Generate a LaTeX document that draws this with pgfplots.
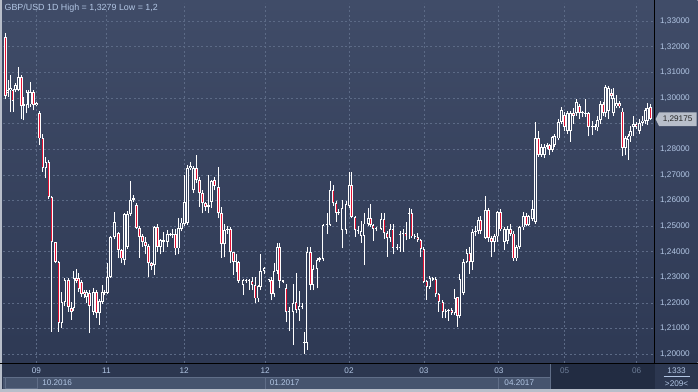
\documentclass[border=0pt]{standalone}
\usepackage{pgfplots}
\pgfplotsset{compat=1.18}
\usepackage{pgfplotstable}
\usepackage{fontspec}
\setmainfont{Liberation Sans}
\definecolor{bgtop}{RGB}{64,76,104}
\definecolor{bgbot}{RGB}{46,57,84}
\definecolor{gridc}{RGB}{92,106,134}
\definecolor{lbl}{RGB}{178,198,228}
\definecolor{dim}{RGB}{110,126,152}
\definecolor{candred}{RGB}{228,18,52}
\definecolor{hollow}{RGB}{54,66,94}
\definecolor{frame}{RGB}{184,190,202}
\definecolor{lowbg}{RGB}{44,55,80}
\definecolor{strip}{RGB}{70,84,110}
\definecolor{stripln}{RGB}{96,110,136}
\definecolor{scroll}{RGB}{34,44,66}

% up (hollow) candles: x open high low close
\pgfplotstableread{
x o h l c
7.5 1.3018 1.3069 1.3004 1.3030
10 1.3030 1.3088 1.2944 1.3038
15 1.3030 1.3057 1.3022 1.3050
18 1.3030 1.3121 1.3026 1.3082
23.5 1.2968 1.3004 1.2913 1.2975
26.5 1.2972 1.3030 1.2940 1.3024
30.5 1.2975 1.3063 1.2965 1.3024
36 1.2972 1.2985 1.2968 1.2981
45.5 1.2727 1.2770 1.2686 1.2751
61.5 1.2123 1.2244 1.2101 1.2205
64.5 1.2205 1.2296 1.2190 1.2290
73.5 1.2180 1.2325 1.2170 1.2296
86.5 1.2223 1.2252 1.2200 1.2244
93 1.2166 1.2258 1.2153 1.2244
99 1.2160 1.2215 1.2114 1.2208
102 1.2205 1.2270 1.2196 1.2244
107.5 1.2240 1.2355 1.2236 1.2302
110.5 1.2302 1.2463 1.2298 1.2458
114 1.2458 1.2556 1.2448 1.2517
124.5 1.2367 1.2550 1.2348 1.2546
127.5 1.2420 1.2560 1.2410 1.2546
130.5 1.2548 1.2675 1.2540 1.2601
133 1.2601 1.2620 1.2596 1.2608
154 1.2350 1.2500 1.2310 1.2497
160 1.2420 1.2450 1.2390 1.2445
167 1.2440 1.2485 1.2420 1.2468
172.5 1.2466 1.2490 1.2455 1.2470
178 1.2413 1.2530 1.2390 1.2494
181 1.2490 1.2530 1.2480 1.2514
184 1.2507 1.2699 1.2500 1.2595
187 1.2512 1.2740 1.2505 1.2726
190 1.2726 1.2750 1.2720 1.2735
193 1.2640 1.2735 1.2630 1.2727
208 1.2576 1.2700 1.2550 1.2583
211 1.2595 1.2680 1.2570 1.2675
224 1.2429 1.2510 1.2378 1.2484
227 1.2484 1.2500 1.2470 1.2490
243 1.2272 1.2295 1.2231 1.2290
249 1.2285 1.2295 1.2250 1.2290
258 1.2218 1.2270 1.2205 1.2267
260.5 1.2264 1.2390 1.2250 1.2325
264 1.2325 1.2340 1.2315 1.2335
274 1.2234 1.2355 1.2225 1.2325
277 1.2325 1.2433 1.2315 1.2418
289 1.2164 1.2185 1.2090 1.2170
293 1.2166 1.2273 1.2036 1.2199
299 1.2173 1.2245 1.2130 1.2187
307 1.2045 1.2420 1.2017 1.2400
313 1.2270 1.2350 1.2250 1.2333
317 1.2333 1.2375 1.2257 1.2368
319.5 1.2368 1.2380 1.2360 1.2375
323 1.2373 1.2510 1.2365 1.2505
327 1.2505 1.2550 1.2470 1.2507
330 1.2505 1.2675 1.2500 1.2640
338.5 1.2553 1.2565 1.2545 1.2556
342 1.2485 1.2602 1.2413 1.2569
346 1.2485 1.2600 1.2470 1.2585
349 1.2579 1.2710 1.2570 1.2660
361 1.2462 1.2520 1.2435 1.2480
364 1.2462 1.2550 1.2348 1.2510
368 1.2510 1.2570 1.2500 1.2530
381 1.2490 1.2550 1.2485 1.2527
390 1.2455 1.2510 1.2440 1.2490
397 1.2415 1.2430 1.2405 1.2418
400 1.2415 1.2480 1.2400 1.2468
403 1.2468 1.2490 1.2400 1.2475
409 1.2460 1.2570 1.2450 1.2550
430 1.2263 1.2305 1.2255 1.2298
446 1.2166 1.2175 1.2140 1.2170
448.5 1.2168 1.2175 1.2130 1.2172
455 1.2162 1.2253 1.2155 1.2218
460 1.2149 1.2313 1.2140 1.2292
463.5 1.2240 1.2370 1.2230 1.2361
467 1.2361 1.2410 1.2355 1.2396
473 1.2360 1.2490 1.2330 1.2478
476 1.2478 1.2500 1.2460 1.2483
478.5 1.2483 1.2535 1.2470 1.2523
486 1.2455 1.2617 1.2450 1.2562
495 1.2439 1.2470 1.2400 1.2460
498 1.2460 1.2560 1.2440 1.2556
505 1.2439 1.2495 1.2407 1.2487
508 1.2442 1.2500 1.2430 1.2490
517 1.2374 1.2425 1.2365 1.2419
520 1.2419 1.2500 1.2410 1.2495
524 1.2495 1.2556 1.2485 1.2539
529 1.2504 1.2545 1.2500 1.2539
532.5 1.2527 1.2602 1.2520 1.2566
535.5 1.2517 1.2907 1.2510 1.2842
541.5 1.2777 1.2820 1.2770 1.2810
545 1.2777 1.2820 1.2765 1.2810
547.5 1.2810 1.2825 1.2800 1.2817
552.5 1.2797 1.2850 1.2790 1.2846
555 1.2817 1.2860 1.2810 1.2850
558.5 1.2842 1.2920 1.2835 1.2907
561.5 1.2907 1.2965 1.2900 1.2952
568 1.2870 1.2950 1.2860 1.2940
571 1.2870 1.2950 1.2830 1.2940
577 1.2940 1.2995 1.2930 1.2985
585.5 1.2938 1.2995 1.2925 1.2942
593 1.2885 1.2910 1.2855 1.2890
598 1.2885 1.2930 1.2870 1.2915
601 1.2916 1.2990 1.2900 1.2976
606 1.2940 1.3050 1.2925 1.3043
609 1.2950 1.3045 1.2920 1.3040
614 1.2940 1.3040 1.2930 1.3000
617 1.2967 1.3010 1.2960 1.2982
626 1.2804 1.2850 1.2776 1.2843
628.5 1.2836 1.2860 1.2758 1.2850
631 1.2850 1.2890 1.2830 1.2870
634 1.2888 1.2930 1.2850 1.2900
640 1.2870 1.2920 1.2860 1.2903
643 1.2903 1.2930 1.2890 1.2912
645.5 1.2910 1.2960 1.2900 1.2952
648 1.2910 1.2980 1.2895 1.2960
}\up

% down (red) candles: x open high low close
\pgfplotstableread{
x o h l c
5 1.3238 1.3253 1.2998 1.3007
12.5 1.3030 1.3036 1.2946 1.2988
21 1.3082 1.3088 1.2917 1.2968
28.5 1.3024 1.3030 1.2960 1.3018
33 1.3024 1.3030 1.2952 1.2972
39 1.2940 1.2949 1.2816 1.2842
42.5 1.2842 1.2861 1.2712 1.2727
48.5 1.2751 1.2758 1.2605 1.2615
51.5 1.2615 1.2619 1.2088 1.2437
55 1.2437 1.2440 1.2355 1.2361
58.5 1.2361 1.2365 1.2088 1.2123
68 1.2290 1.2296 1.2166 1.2186
71 1.2180 1.2205 1.2134 1.2164
76 1.2296 1.2331 1.2278 1.2286
78.5 1.2296 1.2316 1.2243 1.2255
81 1.2283 1.2290 1.2225 1.2234
84 1.2244 1.2250 1.2221 1.2234
89.5 1.2240 1.2250 1.2082 1.2188
96 1.2244 1.2250 1.2140 1.2160
104.5 1.2244 1.2250 1.2230 1.2238
118 1.2472 1.2476 1.2374 1.2406
121 1.2406 1.2410 1.2355 1.2374
136 1.2582 1.2590 1.2490 1.2494
139 1.2494 1.2500 1.2376 1.2458
142 1.2462 1.2470 1.2420 1.2439
145 1.2439 1.2458 1.2390 1.2424
148 1.2424 1.2430 1.2300 1.2355
151 1.2355 1.2360 1.2330 1.2346
157 1.2497 1.2510 1.2400 1.2420
163 1.2445 1.2478 1.2400 1.2440
170 1.2468 1.2475 1.2460 1.2466
175 1.2470 1.2490 1.2387 1.2413
196 1.2727 1.2777 1.2670 1.2679
199 1.2679 1.2690 1.2576 1.2628
202 1.2628 1.2640 1.2550 1.2589
205 1.2589 1.2596 1.2560 1.2576
214 1.2679 1.2690 1.2640 1.2657
218.5 1.2653 1.2731 1.2530 1.2550
221 1.2550 1.2575 1.2376 1.2429
230 1.2488 1.2495 1.2355 1.2398
233 1.2398 1.2400 1.2310 1.2361
236 1.2365 1.2390 1.2320 1.2360
238.5 1.2359 1.2365 1.2280 1.2286
246 1.2290 1.2294 1.2280 1.2287
252 1.2286 1.2300 1.2250 1.2270
255 1.2270 1.2300 1.2199 1.2218
269 1.2290 1.2293 1.2283 1.2288
271.5 1.2290 1.2303 1.2210 1.2234
279.5 1.2418 1.2433 1.2260 1.2286
283 1.2286 1.2290 1.2280 1.2284
286 1.2257 1.2273 1.2125 1.2164
296 1.2205 1.2316 1.2160 1.2173
302 1.2187 1.2200 1.2175 1.2184
304.5 1.2049 1.2088 1.2000 1.2043
310.5 1.2400 1.2420 1.2250 1.2270
333 1.2640 1.2660 1.2580 1.2589
336 1.2589 1.2600 1.2517 1.2553
351.5 1.2660 1.2710 1.2530 1.2537
355 1.2537 1.2540 1.2459 1.2485
358 1.2485 1.2500 1.2470 1.2480
370.5 1.2530 1.2585 1.2495 1.2505
373 1.2505 1.2510 1.2442 1.2490
376 1.2490 1.2495 1.2480 1.2487
384 1.2527 1.2550 1.2450 1.2472
387 1.2472 1.2480 1.2380 1.2455
393 1.2490 1.2510 1.2390 1.2415
406 1.2472 1.2515 1.2445 1.2460
412 1.2550 1.2565 1.2455 1.2460
415 1.2460 1.2470 1.2450 1.2458
418 1.2458 1.2475 1.2440 1.2445
421 1.2445 1.2450 1.2380 1.2410
424 1.2410 1.2420 1.2280 1.2283
427 1.2286 1.2290 1.2212 1.2263
433 1.2297 1.2302 1.2285 1.2290
436 1.2292 1.2300 1.2225 1.2234
439 1.2234 1.2240 1.2166 1.2205
443 1.2205 1.2210 1.2140 1.2166
452 1.2172 1.2180 1.2155 1.2160
457.5 1.2222 1.2225 1.2108 1.2149
470 1.2396 1.2420 1.2315 1.2360
481 1.2523 1.2540 1.2470 1.2482
489 1.2562 1.2570 1.2440 1.2455
492 1.2455 1.2460 1.2380 1.2439
501 1.2556 1.2565 1.2480 1.2487
511 1.2490 1.2510 1.2460 1.2471
514 1.2471 1.2480 1.2365 1.2374
526.5 1.2539 1.2550 1.2500 1.2504
538.5 1.2842 1.2870 1.2770 1.2777
549.5 1.2817 1.2822 1.2777 1.2797
564.5 1.2933 1.2945 1.2870 1.2888
574 1.2940 1.2960 1.2900 1.2930
580 1.2970 1.2975 1.2920 1.2940
582.5 1.2942 1.2950 1.2925 1.2940
589 1.2940 1.2945 1.2850 1.2888
595.5 1.2890 1.2900 1.2875 1.2885
603.5 1.2976 1.2985 1.2930 1.2942
611.5 1.3021 1.3035 1.2995 1.3007
620 1.2982 1.2990 1.2960 1.2967
623 1.2947 1.2962 1.2773 1.2804
636.5 1.2900 1.2905 1.2880 1.2888
651 1.2965 1.2975 1.2915 1.2918
}\down

\pgfplotsset{candle/.style={draw=none, mark=none, forget plot,
  error bars/.cd, y dir=plus, y explicit, error mark=none}}

\begin{document}
\begin{tikzpicture}[x=1pt,y=1pt]
% backgrounds
\shade[top color=bgtop,bottom color=bgbot] (0,29) rectangle (698,392);
\fill[lowbg] (0,0) rectangle (698,29);
\fill[strip] (3,3) rectangle (551,15);
\draw[stripln,line width=0.8pt] (3,15) -- (551,15);
\draw[stripln,line width=0.8pt] (5,3.5) rectangle (37,15);
\draw[stripln,line width=0.8pt] (265,3) -- (265,15);
\draw[stripln,line width=0.8pt] (499,3) -- (499,15);
\fill[scroll] (551.5,2) rectangle (655,27.5);
\draw[stripln,line width=0.8pt] (551,2) -- (551,27.5);
% frame
\fill[frame] (0,0) rectangle (698,2.5);
\fill[frame] (0,0) rectangle (2,392);

\begin{axis}[
  at={(3pt,29pt)}, anchor=south west,
  scale only axis, width=652pt, height=360pt,
  xmin=3, xmax=655, ymin=1.19661, ymax=1.3369,
  axis line style={draw=none},
  tick style={draw=none},
  grid=major,
  grid style={gridc, dash pattern=on 2pt off 2.5pt, line width=0.7pt},
  xtick={36,106,184,265,349,424,499,565,637},
  xticklabels={09,11,12,12,02,03,03,{\color{dim}05},{\color{dim}06}},
  ytick={1.20,1.21,1.22,1.23,1.24,1.25,1.26,1.27,1.28,1.30,1.31,1.32,1.33},
  extra y ticks={1.29}, extra y tick labels={},
  extra tick style={grid=major, tick style={draw=none}},
  scaled y ticks=false,
  yticklabel pos=right,
  tick label style={font=\fontsize{8.2}{9}\selectfont, text=lbl},
  yticklabel style={anchor=west, xshift=2pt,
    /pgf/number format/.cd, fixed, fixed zerofill, precision=5, use comma, assume math mode=true},
  xticklabel style={anchor=center, yshift=-8pt},
]
% wicks
\addplot[candle, error bar style={draw=white, line width=0.85pt}]
  table[x=x, y=l, y error plus expr={\thisrow{h}-\thisrow{l}}] {\up};
\addplot[candle, error bar style={draw=white, line width=0.85pt}]
  table[x=x, y=l, y error plus expr={\thisrow{h}-\thisrow{l}}] {\down};
% bodies
\addplot[candle, error bar style={draw=white, line width=2.7pt}]
  table[x=x, y=o, y error plus expr={max(\thisrow{c}-\thisrow{o},0.0004)}] {\up};
\addplot[candle, error bar style={draw=white, line width=2.7pt}]
  table[x=x, y=c, y error plus expr={max(\thisrow{o}-\thisrow{c},0.0004)}] {\down};
% inner
\addplot[candle, error bar style={draw=hollow, line width=0.9pt}]
  table[x=x, y expr={\thisrow{o}+0.00035}, y error plus expr={max(\thisrow{c}-\thisrow{o}-0.0007,0)}] {\up};
\addplot[candle, error bar style={draw=candred, line width=0.9pt}]
  table[x=x, y expr={\thisrow{c}+0.00035}, y error plus expr={max(\thisrow{o}-\thisrow{c}-0.0007,0)}] {\down};
\end{axis}

% axis lines
\draw[black, line width=0.9pt] (0,29) -- (698,29);
\draw[black, line width=0.9pt] (655,29) -- (655,392);
% title
\node[anchor=west, inner sep=0pt, text=lbl, font=\fontsize{8.9}{10}\selectfont] at (4,384) {GBP/USD 1D High = 1,3279 Low = 1,2};
% current price tag
\fill[frame] (656,273.1) -- (659.5,280) -- (697,280) -- (697,266.2) -- (659.5,266.2) -- cycle;
\node[text=black!85, font=\fontsize{8.2}{9}\selectfont, inner sep=0pt] at (678,273.1) {1,29175};
% bottom texts
\node[text=lbl, font=\fontsize{8.2}{9}\selectfont, inner sep=0pt] at (56.7,9.5) {10.2016};
\node[text=lbl, font=\fontsize{8.2}{9}\selectfont, inner sep=0pt] at (284.5,9.5) {01.2017};
\node[text=lbl, font=\fontsize{8.2}{9}\selectfont, inner sep=0pt] at (519.5,9.5) {04.2017};
\node[text=lbl, font=\fontsize{8.2}{9}\selectfont, inner sep=0pt] at (677,21.5) {1333};
\draw[lbl, line width=0.6pt] (664,15.5) -- (690,15.5);
\node[text=lbl, font=\fontsize{8.2}{9}\selectfont, inner sep=0pt] at (677,8.5) {>209<};
\end{tikzpicture}
\end{document}
